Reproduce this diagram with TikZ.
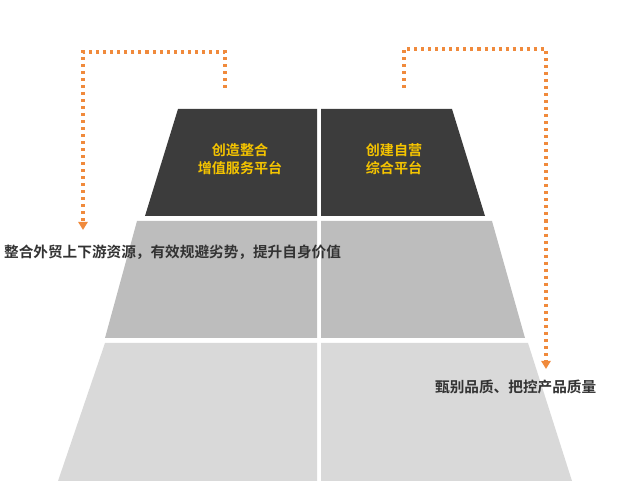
\documentclass[tikz,border=0pt]{standalone}
\usepackage{fontspec}
\setmainfont{Noto Sans CJK SC}[BoldFont={Noto Sans CJK SC Bold}]
\usetikzlibrary{arrows.meta}
\definecolor{darkcell}{HTML}{3C3C3C}
\definecolor{midcell}{HTML}{BDBDBD}
\definecolor{lightcell}{HTML}{D9D9D9}
\definecolor{flow}{HTML}{F08A3C}
\definecolor{titletext}{HTML}{F5C400}
\definecolor{bodytext}{HTML}{333333}
\begin{document}
\begin{tikzpicture}[x=0.03cm,y=-0.03cm,
    cell/.style={draw=none},
    flowline/.style={flow,line width=2.6pt,dash pattern=on 2.6pt off 3.4pt,-{Triangle[width=8pt,length=7pt]}},
    title/.style={titletext,font=\bfseries\fontsize{12}{15}\selectfont,align=center},
    note/.style={bodytext,font=\bfseries\fontsize{12.5}{15}\selectfont}]
  \useasboundingbox (0,0) rectangle (635,484);

  % Top row
  \fill[darkcell] (178,109) -- (317,109) -- (317,216) -- (145,216) -- cycle;
  \fill[darkcell] (321,109) -- (452,109) -- (485,216) -- (321,216) -- cycle;
  % Middle row
  \fill[midcell] (137,221) -- (317,221) -- (317,338) -- (105,338) -- cycle;
  \fill[midcell] (321,221) -- (492,221) -- (525,338) -- (321,338) -- cycle;
  % Bottom row
  \fill[lightcell] (105,343) -- (317,343) -- (317,481) -- (58,481) -- cycle;
  \fill[lightcell] (321,343) -- (528,343) -- (572,481) -- (321,481) -- cycle;

  % Labels
  \node[title] (service) at (240,159) {创造整合\\增值服务平台};
  \node[title] (ownshop) at (394,159) {创建自营\\综合平台};
  \node[note,anchor=west] (trade) at (0,252) {整合外贸上下游资源，有效规避劣势，提升自身价值};
  \node[note,anchor=west] (quality) at (431,387) {甄别品质、把控产品质量};

  % Dotted flows
  \coordinate (leftstart) at (225,88);
  \coordinate (leftend) at (83,230);
  \coordinate (rightstart) at (404,88);
  \coordinate (rightend) at (546,369);
  \draw[flowline] (leftstart) |- (83,52) -- (leftend);
  \draw[flowline] (rightstart) |- (546,49) -- (rightend);
\end{tikzpicture}
\end{document}
